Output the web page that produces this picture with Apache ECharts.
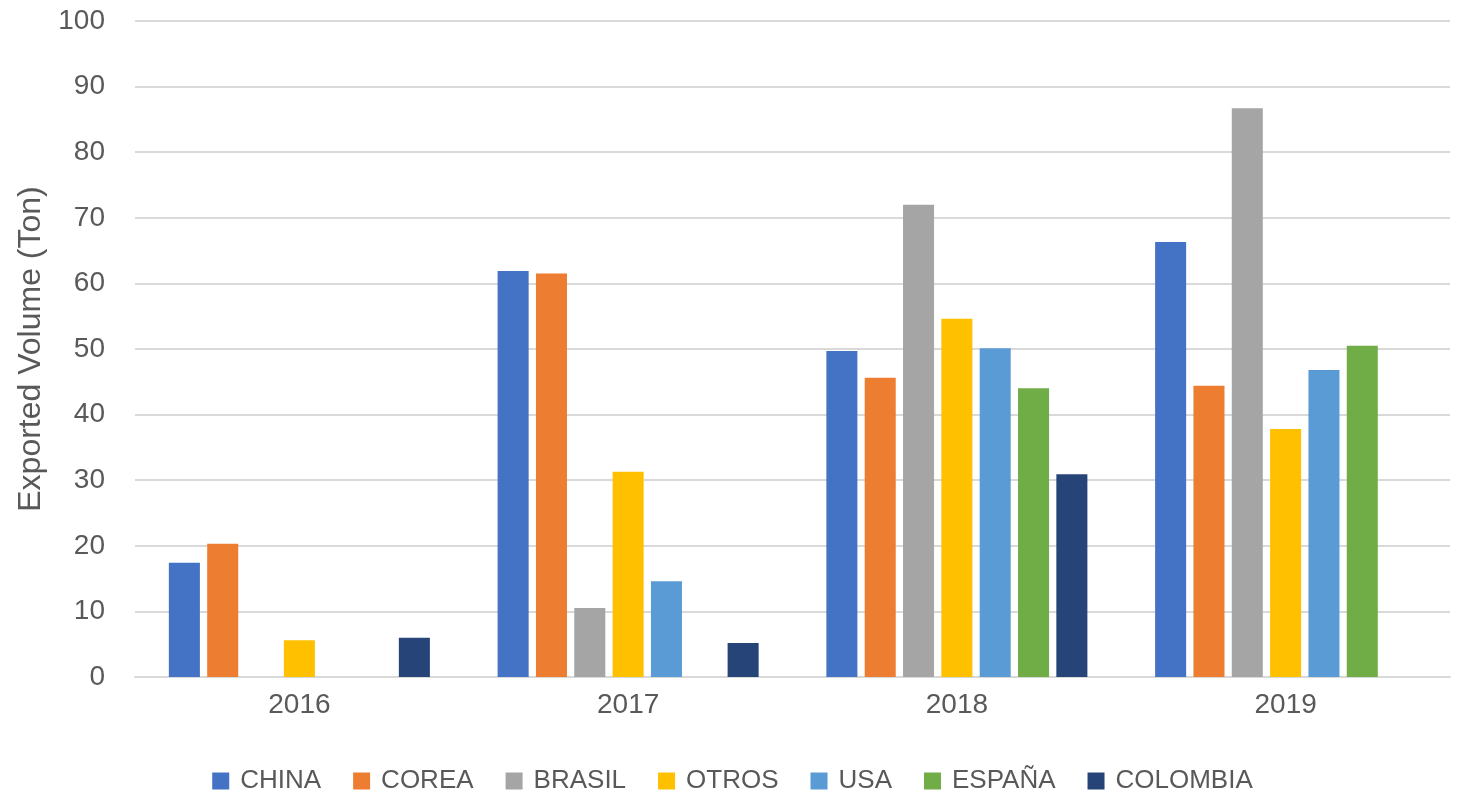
<!DOCTYPE html>
<html>
<head>
<meta charset="utf-8">
<script src="https://cdn.jsdelivr.net/npm/echarts@6/dist/echarts.min.js"></script>
<style>
html,body{margin:0;padding:0;background:#fff;}
#chart{width:1465px;height:796px;}
</style>
</head>
<body>
<div id="chart"></div>
<script>
const categories = ['2016', '2017', '2018', '2019'];
const seriesNames = ['CHINA', 'COREA', 'BRASIL', 'OTROS', 'USA', 'ESPAÑA', 'COLOMBIA'];
const china    = [17.4, 61.9, 49.7, 66.3];
const corea    = [20.3, 61.5, 45.6, 44.4];
const brasil   = [null, 10.5, 72.0, 86.7];
const otros    = [5.6, 31.3, 54.6, 37.8];
const usa      = [null, 14.6, 50.1, 46.8];
const espana   = [null, null, 44.0, 50.5];
const colombia = [6.0, 5.2, 30.9, null];
const yTicks = [0, 10, 20, 30, 40, 50, 60, 70, 80, 90, 100];

const values = [china, corea, brasil, otros, usa, espana, colombia];
const colors = ['#4472C4', '#ED7D31', '#A5A5A5', '#FFC000', '#5B9BD5', '#70AD47', '#264478'];
const fontFamily = '"Liberation Sans", Arial, sans-serif';
const textColor = '#595959';

const chart = echarts.init(document.getElementById('chart'));
chart.setOption({
  animation: false,
  color: colors,
  grid: { left: 135, right: 15, top: 21, bottom: 119, containLabel: false },
  legend: {
    data: seriesNames,
    left: 'center',
    top: 768,
    padding: 0,
    itemWidth: 17,
    itemHeight: 17,
    itemGap: 32,
    icon: 'rect',
    textStyle: { color: textColor, fontSize: 26, fontFamily: fontFamily, padding: [0, 0, 0, 6] }
  },
  xAxis: {
    type: 'category',
    data: categories,
    axisLine: { show: true, lineStyle: { color: '#D9D9D9', width: 2 } },
    axisTick: { show: false },
    axisLabel: { color: textColor, fontSize: 28, fontFamily: fontFamily, margin: 14 }
  },
  yAxis: {
    type: 'value',
    min: yTicks[0],
    max: yTicks[yTicks.length - 1],
    interval: 10,
    name: 'Exported Volume (Ton)',
    nameLocation: 'middle',
    nameGap: 88,
    nameTextStyle: { color: textColor, fontSize: 32, fontFamily: fontFamily },
    axisLine: { show: false },
    axisTick: { show: false },
    splitLine: { lineStyle: { color: '#D9D9D9', width: 2 } },
    axisLabel: { color: textColor, fontSize: 28, fontFamily: fontFamily, margin: 30 }
  },
  series: seriesNames.map((name, i) => ({
    name: name,
    type: 'bar',
    data: values[i],
    barGap: '23.5%',
    barCategoryGap: '20.6%',
    itemStyle: { color: colors[i] }
  }))
});
</script>
</body>
</html>
